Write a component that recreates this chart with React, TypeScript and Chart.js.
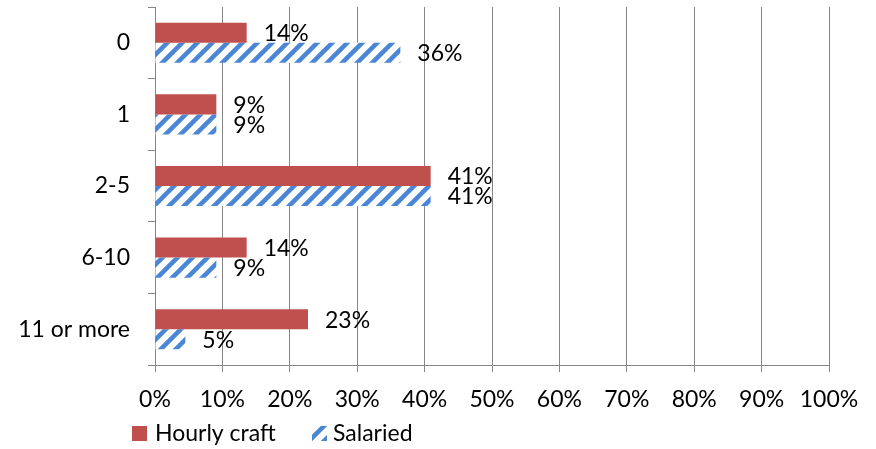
import React, { useEffect, useRef } from "react";
import { Chart, registerables } from "chart.js";

Chart.register(...registerables);

const categories = ["0", "1", "2-5", "6-10", "11 or more"];
const hourlyCraft = [13.6, 9.1, 40.9, 13.6, 22.7];
const salaried = [36.4, 9.1, 40.9, 9.1, 4.5];
const seriesNames = ["Hourly craft", "Salaried"];

const RED = "#C0504D";
const BLUE = "#4A86D6";
const GRID = "#868686";
const FONT_FAMILY = "Lato, 'Open Sans', sans-serif";
const FONT_SIZE = 23;

function makeHatch(color: string): CanvasPattern | string {
  const s = 15;
  const c = document.createElement("canvas");
  c.width = s;
  c.height = s;
  const g = c.getContext("2d");
  if (!g) return color;
  g.fillStyle = "#ffffff";
  g.fillRect(0, 0, s, s);
  g.strokeStyle = color;
  g.lineWidth = 4.5;
  g.lineCap = "butt";
  g.beginPath();
  g.moveTo(-s, 2 * s);
  g.lineTo(2 * s, -s);
  g.moveTo(-s, s);
  g.lineTo(s, -s);
  g.moveTo(0, 2 * s);
  g.lineTo(2 * s, 0);
  g.stroke();
  const ctx = document.createElement("canvas").getContext("2d");
  const p = ctx ? ctx.createPattern(c, "repeat") : null;
  return p || color;
}

export default function App() {
  const ref = useRef<HTMLCanvasElement | null>(null);

  useEffect(() => {
    if (!ref.current) return;
    document.body.style.margin = "0";
    const hatch = makeHatch(BLUE);
    const font = { family: FONT_FAMILY, size: FONT_SIZE };

    const labelPlugin = {
      id: "barLabels",
      afterDatasetsDraw(chart: any) {
        const ctx = chart.ctx;
        ctx.save();
        ctx.font = `${FONT_SIZE}px ${FONT_FAMILY}`;
        ctx.fillStyle = "#000";
        ctx.textAlign = "left";
        ctx.textBaseline = "middle";
        chart.data.datasets.forEach((ds: any, i: number) => {
          const meta = chart.getDatasetMeta(i);
          meta.data.forEach((bar: any, j: number) => {
            const v = ds.data[j];
            ctx.fillText(Math.round(v) + "%", bar.x + 17, bar.y + 1);
          });
        });
        ctx.restore();
      },
    };

    const legendPlugin = {
      id: "customLegend",
      afterDraw(chart: any) {
        const ctx = chart.ctx;
        ctx.save();
        ctx.font = `${FONT_SIZE}px ${FONT_FAMILY}`;
        ctx.textAlign = "left";
        ctx.textBaseline = "middle";
        const y = 434;
        ctx.fillStyle = RED;
        ctx.fillRect(132, 426, 15, 15);
        ctx.fillStyle = "#000";
        ctx.fillText(seriesNames[0], 155, y);
        ctx.fillStyle = hatch;
        ctx.fillRect(312, 426, 15, 15);
        ctx.fillStyle = "#000";
        ctx.fillText(seriesNames[1], 333, y);
        ctx.restore();
      },
    };

    const chart = new Chart(ref.current, {
      type: "bar",
      data: {
        labels: categories,
        datasets: [
          {
            label: seriesNames[0],
            data: hourlyCraft,
            backgroundColor: RED,
            borderWidth: 0,
            categoryPercentage: 0.56,
            barPercentage: 1,
          },
          {
            label: seriesNames[1],
            data: salaried,
            backgroundColor: hatch as any,
            borderWidth: 0,
            categoryPercentage: 0.56,
            barPercentage: 1,
          },
        ],
      },
      options: {
        indexAxis: "y",
        animation: false,
        responsive: true,
        maintainAspectRatio: false,
        layout: { padding: { left: 0, right: 47, top: 7, bottom: 24 } },
        plugins: {
          legend: { display: false },
          tooltip: { enabled: false },
        },
        scales: {
          x: {
            type: "linear",
            min: 0,
            max: 100,
            ticks: {
              stepSize: 10,
              color: "#000",
              font,
              padding: 14,
              maxRotation: 0,
              autoSkip: false,
              callback: (v: any) => v + "%",
            },
            grid: {
              color: GRID,
              lineWidth: 1,
              drawTicks: true,
              tickLength: 7,
              tickColor: GRID,
            },
            border: { display: true, color: GRID, width: 1 },
            afterFit: (s: any) => {
              s.height = 60;
              s.paddingLeft = 0;
              s.paddingRight = 0;
            },
          },
          y: {
            type: "category",
            grid: {
              display: true,
              drawOnChartArea: false,
              offset: true,
              drawTicks: true,
              tickLength: 7,
              color: GRID,
              tickColor: GRID,
            },
            border: { display: true, color: GRID, width: 1 },
            ticks: { color: "#000", font, padding: 18 },
            afterFit: (s: any) => {
              s.width = 155;
              s.paddingTop = 0;
              s.paddingBottom = 0;
            },
          },
        },
      },
      plugins: [labelPlugin, legendPlugin],
    });

    return () => chart.destroy();
  }, []);

  return (
    <div style={{ position: "absolute", left: 0, top: 0, width: 876, height: 449 }}>
      <canvas ref={ref} />
    </div>
  );
}
